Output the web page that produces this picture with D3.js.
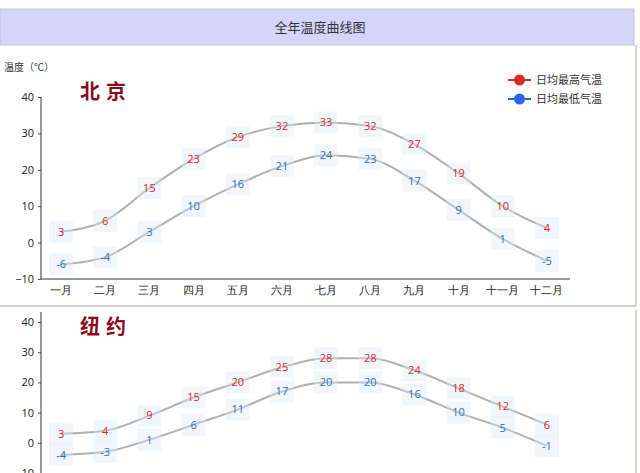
<!DOCTYPE html>
<html><head><meta charset="utf-8">
<script src="https://cdn.jsdelivr.net/npm/d3@7"></script>
<style>
html,body{margin:0;padding:0;background:#fefefb;}
svg{display:block;font-family:"Noto Sans CJK SC","Noto Sans",sans-serif;}
</style></head>
<body><svg id="c" width="640" height="473"></svg>
<script>
const months = ["一月","二月","三月","四月","五月","六月","七月","八月","九月","十月","十一月","十二月"];
const yTicks = [-10,0,10,20,30,40];
const bjHigh = [3,6,15,23,29,32,33,32,27,19,10,4];
const bjLow  = [-6,-4,3,10,16,21,24,23,17,9,1,-5];
const nyHigh = [3,4,9,15,20,25,28,28,24,18,12,6];
const nyLow  = [-4,-3,1,6,11,17,20,20,16,10,5,-1];
const seriesNames = ["日均最高气温","日均最低气温"];
const cities = ["北京","纽约"];
const title = "全年温度曲线图";
const yLabel = "温度（℃）";

const svg = d3.select("#c");
const red = "#d42a2a", blue = "#2f6fc4", lineCol = "#b0b0b0";

svg.append("rect").attr("x",0).attr("y",0).attr("width",640).attr("height",473).attr("fill","#fefefb");
svg.append("rect").attr("x",0).attr("y",9).attr("width",634).attr("height",36)
  .attr("fill","#d5d5fa").attr("stroke","#c4c4d8").attr("stroke-width",1);
svg.append("text").attr("x",320).attr("y",32).attr("text-anchor","middle")
  .attr("font-size",13).attr("fill","#333").text(title);

svg.append("rect").attr("x",0).attr("y",46).attr("width",636).attr("height",260).attr("fill","#fff");
svg.append("line").attr("x1",636).attr("x2",636).attr("y1",45).attr("y2",306).attr("stroke","#c8c8c8").attr("stroke-width",1.5);
svg.append("line").attr("x1",0).attr("x2",636).attr("y1",306).attr("y2",306).attr("stroke","#cfcfcf").attr("stroke-width",2);
svg.append("rect").attr("x",0).attr("y",310).attr("width",636).attr("height",163).attr("fill","#fff");
svg.append("line").attr("x1",636).attr("x2",636).attr("y1",310).attr("y2",473).attr("stroke","#c8c8c8").attr("stroke-width",1.5);

svg.append("text").attr("x",4).attr("y",71).attr("font-size",10).attr("fill","#333").text(yLabel);

const x = d3.scaleBand().domain(months).range([39,569]);
const cx = m => x(m) + x.bandwidth()/2;

function panel(opts){
  const y = d3.scaleLinear().domain([-10,40]).range([opts.y0, opts.y40]);
  const g = svg.append("g");
  const ax = d3.axisLeft(y).tickValues(yTicks).tickSize(3).tickPadding(4);
  const ag = g.append("g").attr("transform","translate(41,0)").call(ax);
  ag.select(".domain").remove();
  ag.selectAll("line").attr("stroke","#555");
  ag.selectAll("text").attr("font-size",11).attr("fill","#222").attr("font-family","'Open Sans',sans-serif");
  g.append("line").attr("x1",41).attr("x2",41).attr("y1",opts.axTop).attr("y2",Math.min(opts.y0,473))
    .attr("stroke","#333").attr("stroke-width",1);
  if(opts.xAxis){
    const xg = g.append("g").attr("transform",`translate(0,${opts.y0})`)
      .call(d3.axisBottom(x).tickSize(0).tickPadding(7));
    xg.select(".domain").attr("stroke","#333").attr("d",`M41,0H570`);
    xg.selectAll("text").attr("font-size",11).attr("fill","#222");
  }
  g.append("text").attr("x",80).attr("y",opts.cityY).attr("font-size",20).attr("font-weight","bold")
    .attr("fill","#8a0a22").attr("letter-spacing",6).attr("font-family","'Noto Sans CJK SC',serif").text(opts.city);

  const line = d3.line().x((d,i)=>cx(months[i])).y(d=>y(d)).curve(d3.curveMonotoneX);
  [opts.high,opts.low].forEach(arr=>{
    g.append("path").datum(arr).attr("d",line).attr("fill","none").attr("stroke",lineCol).attr("stroke-width",2);
  });
  [[opts.high,red],[opts.low,blue]].forEach(([arr,col])=>{
    const lg = g.selectAll(null).data(arr).enter().append("g")
      .attr("transform",(d,i)=>`translate(${cx(months[i])},${y(d)})`);
    lg.append("rect").attr("x",-12).attr("y",-11).attr("width",24).attr("height",22)
      .attr("fill","#dde8f5").attr("opacity",0.4);
    lg.append("text").attr("text-anchor","middle").attr("dy","0.35em").attr("font-size",11)
      .attr("fill",col).attr("font-family","'Open Sans',sans-serif").text(d=>d);
  });
}

panel({y0:279, y40:97, axTop:97, xAxis:true, city:cities[0], cityY:99, high:bjHigh, low:bjLow});
panel({y0:473, y40:322, axTop:312, xAxis:false, city:cities[1], cityY:334, high:nyHigh, low:nyLow});

const leg = svg.append("g");
[[seriesNames[0],red,80],[seriesNames[1],"#2a66e0",99]].forEach(([t,c,yy])=>{
  leg.append("line").attr("x1",508).attr("x2",531).attr("y1",yy).attr("y2",yy).attr("stroke",c).attr("stroke-width",2);
  leg.append("circle").attr("cx",519.5).attr("cy",yy).attr("r",5.5).attr("fill",c);
  leg.append("text").attr("x",536).attr("y",yy).attr("dy","0.35em").attr("font-size",11).attr("fill","#333").text(t);
});
</script></body></html>
